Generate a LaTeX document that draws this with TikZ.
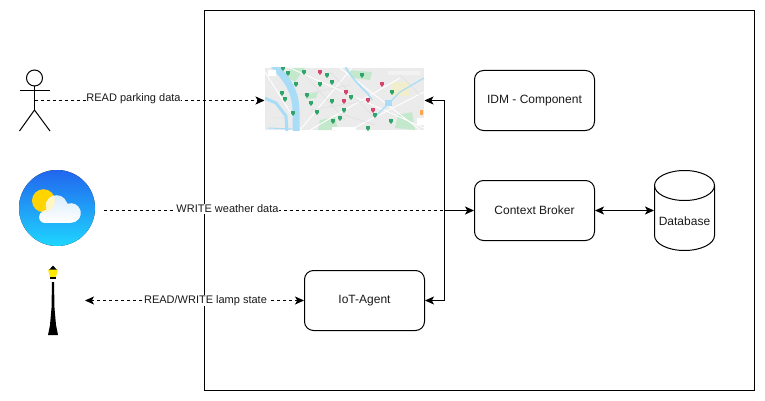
\documentclass[tikz,border=0pt]{standalone}
\usepackage{fontspec}
\setmainfont{Liberation Sans}
\usetikzlibrary{arrows.meta}
\definecolor{mapbase}{HTML}{EBEBEB}
\definecolor{mapriver}{HTML}{A9DCF6}
\definecolor{mappark}{HTML}{C4E8CC}
\definecolor{pingreen}{HTML}{2FA56A}
\definecolor{pinred}{HTML}{D8456B}
\definecolor{sunc}{HTML}{FFD400}
\definecolor{skytop}{HTML}{2166EE}
\definecolor{skybot}{HTML}{1FD6FF}
\definecolor{cloudtop}{HTML}{D8ECFB}
\definecolor{cream}{HTML}{FFF6C8}
\tikzset{
  x=1pt,y=-1pt,
  every picture/.append style={line width=1pt},
  tip/.style={-{Stealth[length=9pt,width=8pt,inset=2.2pt]}},
  tips/.style={{Stealth[length=9pt,width=8pt,inset=2.2pt]}-{Stealth[length=9pt,width=8pt,inset=2.2pt]}},
  conn/.style={line width=1pt,black},
  dashconn/.style={conn,dash pattern=on 3pt off 3pt},
  boxn/.style={draw,rounded corners=9pt,minimum width=120pt,minimum height=60pt,inner sep=0pt,font=\fontsize{12}{14}\selectfont,text=black!90},
  lab/.style={fill=white,inner sep=.8pt,font=\fontsize{11}{13}\selectfont,text=black!90},
}
\newcommand{\mappin}[3]{\fill[#1] (#2-1.8,#3-1.6) rectangle (#2+1.8,#3+1); \fill[#1] (#2-1.6,#3+1) -- (#2+1.6,#3+1) -- (#2,#3+3) -- cycle;}
\newcommand{\cloudpath}{(45,223) arc[radius=6,start angle=90,end angle=250] -- (46.4,209.7) arc[radius=10.8,start angle=160,end angle=340] -- (67.6,203.8) arc[radius=9.8,start angle=250,end angle=450] -- cycle}
\begin{document}
\begin{tikzpicture}
\useasboundingbox (0,0) rectangle (765,401);
\fill[white] (0,0) rectangle (765,401);
% frame
\node[draw,rectangle,minimum width=550pt,minimum height=379.5pt,inner sep=0pt] (frame) at (479.5,200.7) {};
% map
\node[rectangle,fill=mapbase,minimum width=159pt,minimum height=62pt,inner sep=0pt] (map) at (344.5,99) {};
\begin{scope}
\clip (265,68) rectangle (424,130);
\fill[mappark] (290,68) -- (305,68) -- (295,82) -- (288,78) -- cycle;
\fill[mappark] (320,120) -- (335,117) -- (338,130) -- (318,130) -- cycle;
\fill[mappark] (398,115) -- (412,112) -- (415,130) -- (395,128) -- cycle;
\fill[mappark] (348,70) -- (372,72) -- (370,80) -- (352,78) -- cycle;
\fill[mappark] (308,94) -- (318,92) -- (316,98) -- (306,99) -- cycle;
\fill[yellow!15!mapbase] (392,82) rectangle (410,96);
\foreach \a/\b/\c/\d in {300/130/352/68,265/72/300/128,310/130/400/78,290/68/424/128,350/130/424/92,340/68/420/130}{
  \draw[white,line width=.9pt] (\a,\b) -- (\c,\d);
}
\draw[black!14,line width=.35pt] (305,75) -- (345,120) (330,72) -- (375,118) (300,95) -- (350,85) (310,110) -- (370,100) (345,115) -- (375,125) (400,75) -- (420,95) (270,118) -- (285,118);
\draw[mapriver,line width=7pt] (273,64) .. controls (288,80) and (296,92) .. (296,112) -- (296,134);
\draw[mapriver,line width=3pt] (262,97) -- (276,103) -- (286,116) -- (287,132);
\draw[mapriver,line width=1.6pt] (345,66) .. controls (350,76) and (358,84) .. (368,94) -- (372,100);
\draw[mapriver,line width=1.2pt] (376,116) -- (400,92) -- (424,78);
\draw[mapriver,line width=1pt] (268,128) -- (292,129);
\fill[mapriver] (385,100) rectangle (392,106);
\foreach \p/\q in {283/68,288/73,304/72,327/75,362/75,332/82,320/84,296/84,282/93,285/99,307/95,311/103,332/101,351/97,344/110,317/112,293/113,340/118,333/121,375/115,391/121,368/128,392/92}{
  \mappin{pingreen}{\p}{\q}
}
\foreach \p/\q in {320/72,382/84,346/92,344/101,368/100,373/110}{
  \mappin{pinred}{\p}{\q}
}
\fill[white] (268,70) rectangle (276,76);
\fill[white!95!black] (388,71) rectangle (420,75);
\fill[white] (417,118) rectangle (424,125);
\fill[white] (332,127) rectangle (356,130);
\fill[orange!70] (420,110) rectangle (422.5,115);
\end{scope}
% boxes
\node[boxn] (idm) at (534.5,100.5) {IDM - Component};
\node[boxn] (cb) at (534.5,210.5) {Context Broker};
\node[boxn] (iot) at (364.5,300.5) {IoT-Agent};
\node[rectangle,minimum width=60pt,minimum height=80pt,inner sep=0pt] (db) at (684.5,210.5) {};
\draw (654.5,185.5) arc[x radius=30,y radius=15,start angle=180,end angle=540];
\draw (654.5,185.5) -- (654.5,235.5) arc[x radius=30,y radius=15,start angle=180,end angle=0] -- (714.5,185.5);
\node[font=\fontsize{12}{14}\selectfont,inner sep=0pt,text=black!90] (dbt) at (684.5,221.5) {Database};
% actor
\node[circle,draw,minimum size=16pt,inner sep=0pt] (head) at (34.5,78) {};
\coordinate (hip) at (34.5,110);
\coordinate (act) at (34.5,100.5);
\draw (head) -- (hip);
\draw (19.5,90.5) -- (50,90.5);
\draw (19.5,131) -- (hip) -- (50,131);
% weather icon
\fill[bottom color=skybot,top color=skytop] (57,208) circle (38);
\coordinate (wx) at (104,210.5);
\fill[sunc] (43.5,200.7) circle (11.5);
\path[top color=cloudtop,bottom color=white] \cloudpath;
\begin{scope}
\clip (43.5,200.7) circle (11.5);
\fill[cream] \cloudpath;
\end{scope}
% lamp
\coordinate (lmp) at (85,300.5);
\fill[black] (52,282) -- (54,282) -- (54.5,308) -- (56,325) -- (58,335) -- (48,335) -- (50,325) -- (51.5,308) -- cycle;
\fill[black] (49,270) -- (53,265.5) -- (57,270) -- cycle;
\fill[yellow!90!orange] (48,269.5) -- (58,269.5) -- (56,277) -- (50,277) -- cycle;
\fill[black] (50,277) rectangle (56,279);
% connectors
\coordinate (j1) at (444.5,100.5);
\coordinate (j2) at (444.5,300.5);
\coordinate (j3) at (444.5,210.5);
\draw[dashconn,tip] (act) -- (map.west |- act);
\draw[dashconn] (wx) -- (j3);
\draw[conn,tip] (j3) -- (cb.west);
\draw[dashconn,tips] (lmp) -- (iot.west);
\draw[conn,tips] (map.east |- j1) -- (j1) -- (j2) -- (iot.east);
\draw[conn,tips] (cb.east) -- (db.west |- cb.east);
% labels
\node[lab] (l1) at (133.5,98.5) {READ parking data};
\node[lab] (l2) at (227.5,209) {WRITE weather data};
\node[lab] (l3) at (205.5,300.5) {READ/WRITE lamp state};
\end{tikzpicture}
\end{document}
